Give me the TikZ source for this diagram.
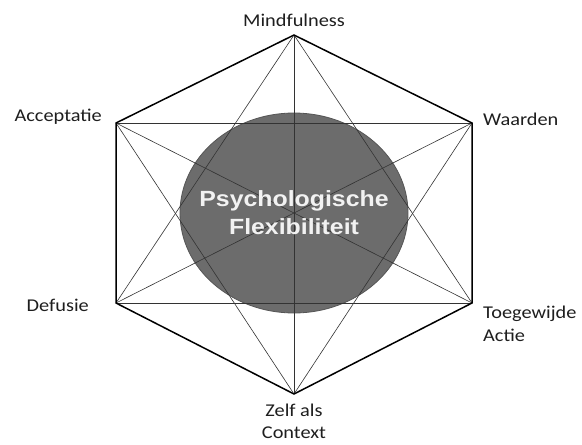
\documentclass[tikz,border=0pt]{standalone}
\usepackage{xcolor}
\usepackage{fontspec}
\setmainfont{Carlito}
\newfontfamily\corefont{Liberation Sans}
\usepackage{tikz}
\usetikzlibrary{positioning,shapes.geometric}
\definecolor{Disc}{HTML}{6C6C6C}
\definecolor{DiscEdge}{HTML}{555555}
\definecolor{Ink}{HTML}{1E1E1E}
\newcommand{\wide}[1]{\scalebox{1.13}[1]{#1}}

\begin{document}
\begin{tikzpicture}[x=1pt,y=-1pt,
    lbl/.style={inner sep=0pt,text=Ink,font=\fontsize{18}{23}\selectfont},
    core/.style={inner sep=0pt,align=center,text=white!95!black,font=\corefont\bfseries\fontsize{22}{28}\selectfont},
    chord/.style={line width=0.6pt,draw=black!80},
    rim/.style={line width=1.5pt,line join=miter}]
    \useasboundingbox (0,0) rectangle (582,445);
    % six corners of the hexagon
    \coordinate (mind) at (294,35);
    \coordinate (waar) at (472,123);
    \coordinate (toe) at (472,303);
    \coordinate (zelf) at (294,394);
    \coordinate (defu) at (116,303);
    \coordinate (acc) at (116,123);
    \node[ellipse,draw=DiscEdge,line width=0.8pt,fill=Disc,minimum width=228pt,minimum height=200pt] (disc) at (294,213) {};
    \foreach \a/\b in {mind/zelf,mind/toe,mind/defu,acc/waar,acc/toe,acc/zelf,waar/defu,waar/zelf,defu/toe}
      \draw[chord] (\a) -- (\b);
    \draw[rim] (mind) -- (waar) -- (toe) -- (zelf) -- (defu) -- (acc) -- cycle;
    \node[core] (flex) at (disc.center) {\wide{Psychologische}\\\wide{Flexibiliteit}};
    % labels
    \node[lbl,above=8pt of mind] (lmind) {\wide{Mindfulness}};
    \node[lbl,left=14pt of acc,yshift=6pt] (lacc) {\wide{Acceptatie}};
    \node[lbl,right=11pt of waar,yshift=4pt] (lwaar) {\wide{Waarden}};
    \node[lbl,left=27pt of defu,yshift=-2pt] (ldefu) {\wide{Defusie}};
    \node[lbl,right=11pt of toe,yshift=-21pt,align=left] (ltoe) {\wide{Toegewijde}\\\wide{Actie}};
    \node[lbl,below=10pt of zelf,align=center,font=\fontsize{18}{22}\selectfont] (lzelf) {\wide{Zelf als}\\\wide{Context}};
\end{tikzpicture}
\end{document}
